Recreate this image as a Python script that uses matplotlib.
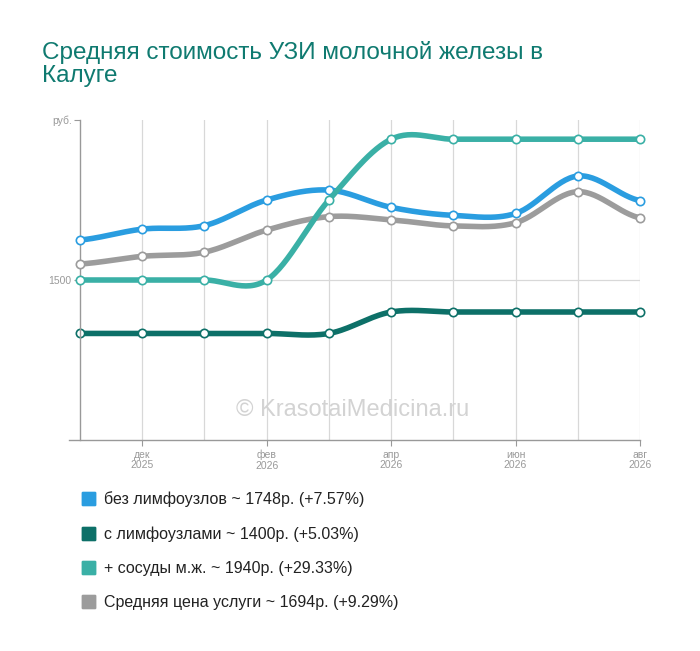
import numpy as np
import matplotlib
matplotlib.use("Agg")
import matplotlib.pyplot as plt
from matplotlib.patches import FancyBboxPatch

plt.rcParams["font.family"] = ["Liberation Sans", "DejaVu Sans"]

# ----------------------------
# data
# ----------------------------
months = ["ноя\n2025", "дек\n2025", "янв\n2026", "фев\n2026", "мар\n2026",
          "апр\n2026", "май\n2026", "июн\n2026", "июл\n2026", "авг\n2026"]
no_lymph = [1625, 1659, 1670, 1750, 1781, 1727, 1702, 1708, 1825, 1748]
with_lymph = [1333, 1333, 1333, 1333, 1333, 1400, 1400, 1400, 1400, 1400]
vessels = [1500, 1500, 1500, 1500, 1750, 1940, 1940, 1940, 1940, 1940]
average = [1550, 1574, 1587, 1656, 1698, 1688, 1669, 1679, 1776, 1694]

labels = ["без лимфоузлов ~ 1748р. (+7.57%)",
          "с лимфоузлами ~ 1400р. (+5.03%)",
          "+ сосуды м.ж. ~ 1940р. (+29.33%)",
          "Средняя цена услуги ~ 1694р. (+9.29%)"]
colors = ["#2a9de0", "#0d7068", "#3ab0a6", "#9c9c9c"]
series = [no_lymph, with_lymph, vessels, average]
zorders = [3, 2, 5, 4]


def catmull_rom(y, steps=30):
    y = np.asarray(y, dtype=float)
    pts = np.concatenate([[y[0]], y, [y[-1]]])
    xs, ys = [], []
    for i in range(len(y) - 1):
        p0, p1, p2, p3 = pts[i], pts[i + 1], pts[i + 2], pts[i + 3]
        m1 = (p2 - p0) / 2
        m2 = (p3 - p1) / 2
        t = np.linspace(0, 1, steps, endpoint=False)
        h00 = 2 * t**3 - 3 * t**2 + 1
        h10 = t**3 - 2 * t**2 + t
        h01 = -2 * t**3 + 3 * t**2
        h11 = t**3 - t**2
        xs.append(i + t)
        ys.append(h00 * p1 + h10 * m1 + h01 * p2 + h11 * m2)
    xs.append([len(y) - 1])
    ys.append([y[-1]])
    return np.concatenate(xs), np.concatenate(ys)


W, H = 700, 651
fig = plt.figure(figsize=(7, 6.51), dpi=100)
ax = fig.add_axes([69 / W, (H - 440) / H, (640 - 69) / W, 320 / H])

ax.set_xlim(-0.177, 9)
ax.set_ylim(1000, 2000)

x = np.arange(len(months))
for ys, c, z in zip(series, colors, zorders):
    sx, sy = catmull_rom(ys)
    ax.plot(sx, sy, color=c, lw=4, zorder=z, solid_capstyle="round")
    ax.plot(x, ys, "o", ms=6, mfc="white", mec=c, mew=1.2, zorder=z + 0.5,
            clip_on=False)

# grid
for xi in x[1:]:
    ax.axvline(xi, color="#d8d8d8", lw=0.9, zorder=0)
ax.plot([0, 9], [1500, 1500], color="#d8d8d8", lw=0.9, zorder=0)

for s in ["top", "right"]:
    ax.spines[s].set_visible(False)
ax.spines["left"].set_position(("data", 0))
ax.spines["left"].set_color("#999999")
ax.spines["bottom"].set_color("#999999")
ax.spines["left"].set_linewidth(1)
ax.spines["bottom"].set_linewidth(1)

ax.set_yticks([1500, 2000])
ax.set_yticklabels(["1500", "руб."])
ax.tick_params(axis="y", length=4, colors="#999999", labelsize=7.5,
               labelcolor="#999999", pad=2)
ax.set_xticks(x[1::2])
ax.set_xticklabels([months[i] for i in x[1::2]], linespacing=1.05)
ax.tick_params(axis="x", length=4, colors="#999999", labelsize=7.5,
               labelcolor="#999999", pad=3)

# watermark
fig.text(353 / W, 1 - 410 / H, "© KrasotaiMedicina.ru", fontsize=17,
         color="#d3d3d3", ha="center", va="center")

# title
fig.text(42 / W, 1 - 64 / H, "Средняя стоимость УЗИ молочной железы в\nКалуге",
         fontsize=17.5, color="#0f7a70", ha="left", va="center",
         linespacing=1.1)

# legend
rows = [499, 534, 568, 602]
for yy, c, lab in zip(rows, colors, labels):
    fig.patches.append(FancyBboxPatch(((82 + 1) / W, 1 - (yy + 6) / H),
                                      12 / W, 12 / H,
                                      boxstyle="round,pad=0.002",
                                      transform=fig.transFigure,
                                      fc=c, ec="none"))
    fig.text(104 / W, 1 - yy / H, lab, fontsize=11.5, color="#222222",
             ha="left", va="center")

fig.savefig("out.png", dpi=100)
